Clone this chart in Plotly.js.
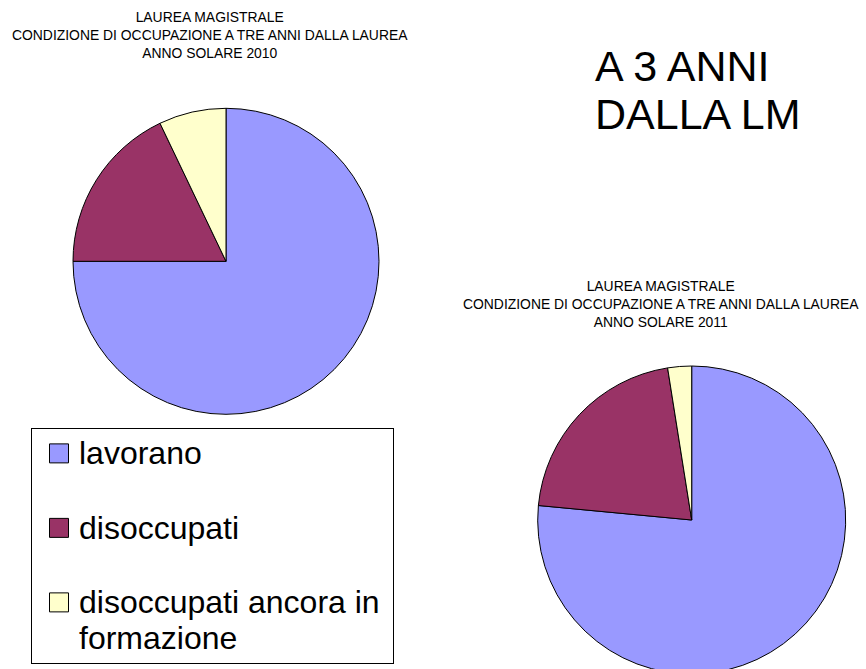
<!DOCTYPE html>
<html>
<head>
<meta charset="utf-8">
<script src="https://cdn.plot.ly/plotly-3.0.1.min.js"></script>
<style>
html,body{margin:0;padding:0;overflow:hidden;background:#fff}
#wrap{width:866px;height:669px;overflow:hidden;position:relative}
</style>
</head>
<body>
<div id="wrap"><div id="chart"></div></div>
<script>
// ---- data ----
const categories = ['lavorano', 'disoccupati', 'disoccupati ancora in\nformazione'];
const values2010 = [75.0, 17.9, 7.1];
const values2011 = [76.5, 21.0, 2.5];
const sliceColors = ['#9999FF', '#993366', '#FFFFCC'];
const title2010 = ['LAUREA MAGISTRALE', 'CONDIZIONE DI OCCUPAZIONE A TRE ANNI DALLA LAUREA', 'ANNO SOLARE 2010'];
const title2011 = ['LAUREA MAGISTRALE', 'CONDIZIONE DI OCCUPAZIONE A TRE ANNI DALLA LAUREA', 'ANNO SOLARE 2011'];
const headline = ['A 3 ANNI', 'DALLA LM'];

// ---- layout helpers ----
const W = 866, H = 690;
const px = v => v / W;
const py = v => 1 - v / H;
const LEG_TEXT = 32;

// legend labels: each entry at least two lines tall (blank second line) to space entries
const labels = categories.map(c => {
  const lines = c.split('\n').map(l => '<span style="font-size:' + LEG_TEXT + 'px">' + l + '</span>');
  if (lines.length < 2) lines.push('&nbsp;');
  else lines[0] += '&nbsp;';
  return lines.join('<br>');
});

const common = {
  type: 'pie',
  labels: labels,
  sort: false,
  direction: 'clockwise',
  rotation: 0,
  textinfo: 'none',
  hoverinfo: 'percent',
  marker: {colors: sliceColors, line: {color: '#000000', width: 1}}
};

const traces = [
  Object.assign({}, common, {
    values: values2010,
    domain: {x: [px(73), px(379)], y: [py(414.3), py(108.3)]},
    showlegend: true
  }),
  Object.assign({}, common, {
    values: values2011,
    domain: {x: [px(537.7), px(845.7)], y: [py(674), py(366)]},
    showlegend: false
  })
];

const layout = {
  width: W, height: H,
  margin: {l: 0, r: 0, t: 0, b: 0},
  paper_bgcolor: '#ffffff',
  font: {family: '"Liberation Sans", Arial, sans-serif', color: '#000000'},
  showlegend: true,
  legend: {
    x: px(31), xanchor: 'left', y: py(428), yanchor: 'top',
    bgcolor: '#ffffff', bordercolor: '#000000', borderwidth: 1,
    font: {size: 27.5, color: '#000000'},
    valign: 'top', indentation: 7, traceorder: 'normal'
  },
  annotations: [
    {text: title2010.join('<br>'), x: px(210), y: py(34.8), xref: 'paper', yref: 'paper',
     xanchor: 'center', yanchor: 'middle', showarrow: false, font: {size: 13.9}},
    {text: title2011.join('<br>'), x: px(661), y: py(304), xref: 'paper', yref: 'paper',
     xanchor: 'center', yanchor: 'middle', showarrow: false, font: {size: 13.9}},
    {text: headline[0], x: px(593), y: py(66), xref: 'paper', yref: 'paper',
     xanchor: 'left', yanchor: 'middle', showarrow: false, align: 'left', font: {size: 43}},
    {text: headline[1], x: px(593), y: py(114), xref: 'paper', yref: 'paper',
     xanchor: 'left', yanchor: 'middle', showarrow: false, align: 'left', font: {size: 43}}
  ]
};

Plotly.newPlot('chart', traces, layout, {displayModeBar: false, staticPlot: true}).then(gd => {
  // enlarge the legend swatches to match the reference's larger squares
  gd.querySelectorAll('path.legendpie').forEach(p => p.setAttribute('d', 'M9.5,9.5V-9.5H-9.5V9.5Z'));
});
</script>
</body>
</html>
